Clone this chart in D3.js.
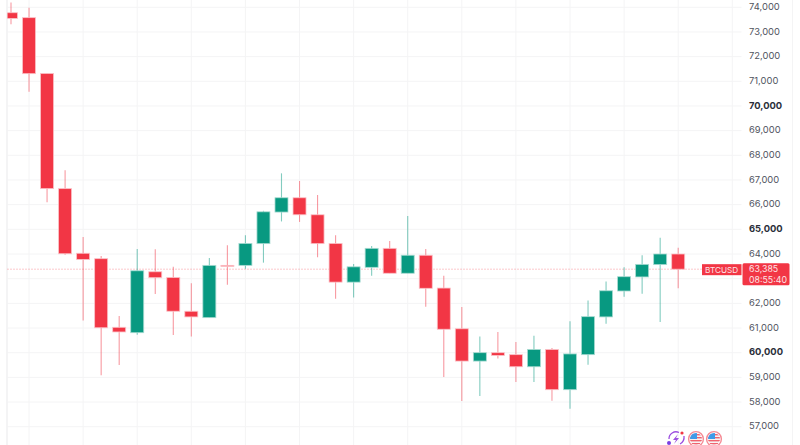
<!DOCTYPE html>
<html>
<head>
<meta charset="utf-8">
<script src="https://cdn.jsdelivr.net/npm/d3@7"></script>
<style>
  html, body { margin: 0; padding: 0; background: #fff; overflow: hidden; }
  text { font-family: Inter, "Noto Sans", sans-serif; }
</style>
</head>
<body>
<div id="chart"></div>
<script>
const opens = [73780, 73580, 71320, 66650, 64030, 63810, 61030, 60810, 63280, 63050, 61680, 61420, 63540, 63540, 64420, 65700, 66280, 65590, 64430, 62860, 63460, 64230, 63220, 63950, 62620, 60970, 59660, 60000, 59920, 59430, 60130, 58500, 59920, 61450, 62500, 63070, 63570, 64000];
const closes = [73550, 71310, 66650, 64010, 63780, 61010, 60840, 63320, 63040, 61680, 61450, 63540, 63540, 64430, 65710, 66280, 65590, 64420, 62860, 63480, 64230, 63220, 63950, 62610, 60950, 59660, 60000, 59890, 59430, 60130, 58500, 59950, 61460, 62510, 63080, 63580, 64000, 63385];
const highs = [74190, 73980, 71320, 67400, 64690, 63920, 61490, 64200, 64190, 63480, 62810, 63840, 64350, 64760, 65750, 67270, 66960, 66390, 64760, 63590, 64320, 64530, 65540, 64200, 63120, 61850, 60660, 60840, 60430, 60690, 60190, 61270, 62120, 62890, 63460, 63950, 64660, 64250];
const lows = [73310, 70580, 66100, 63970, 61300, 59090, 59500, 60730, 62380, 60720, 60660, 61420, 62750, 63400, 63650, 65320, 65300, 63870, 62190, 62240, 63120, 63220, 63220, 61860, 59010, 58040, 58240, 59760, 58810, 58810, 58050, 57730, 59510, 61170, 62270, 62390, 61240, 62610];

const priceTicks = [57000, 58000, 59000, 60000, 61000, 62000, 63000, 64000, 65000, 66000, 67000, 68000, 69000, 70000, 71000, 72000, 73000, 74000];
const boldTicks = [60000, 65000, 70000];
const gridCandles = [1, 4, 7, 10, 13, 16, 19, 22, 25, 28, 31, 34, 37, 40];
const lastPrice = 63385;
const symbol = "BTCUSD";
const countdown = "08:55:40";

const WIDTH = 800;
const HEIGHT = 445;
const PANE = { LEFT: 7.5, RIGHT: 741.5 };
const BODY_WIDTH = 13;
const UP = "#089981";
const DOWN = "#f23645";

const svg = d3.select("#chart")
  .append("svg")
  .attr("width", WIDTH)
  .attr("height", HEIGHT)
  .style("display", "block");

// scales
const x = d3.scaleLinear().domain([0, 37]).range([11, 678.2]);
const y = d3.scaleLinear().domain([57000, 74000]).range([426.7, 7.3]);

svg.append("clipPath").attr("id", "pane")
  .append("rect")
  .attr("x", PANE.LEFT)
  .attr("y", 0)
  .attr("width", PANE.RIGHT - PANE.LEFT)
  .attr("height", HEIGHT);

// grid
const grid = svg.append("g").attr("stroke", "#f4f4f5").attr("stroke-width", 1);
grid.selectAll("line.h")
  .data(priceTicks)
  .enter().append("line")
  .attr("class", "h")
  .attr("x1", PANE.LEFT)
  .attr("x2", PANE.RIGHT)
  .attr("y1", d => y(d))
  .attr("y2", d => y(d));
grid.selectAll("line.v")
  .data(gridCandles)
  .enter().append("line")
  .attr("class", "v")
  .attr("x1", d => x(d))
  .attr("x2", d => x(d))
  .attr("y1", 0)
  .attr("y2", HEIGHT);

// pane edges
svg.append("line")
  .attr("x1", 7).attr("x2", 7).attr("y1", 0).attr("y2", HEIGHT)
  .attr("stroke", "#f1f1f2").attr("stroke-width", 1.5);
svg.append("line")
  .attr("x1", 792.5).attr("x2", 792.5).attr("y1", 0).attr("y2", HEIGHT)
  .attr("stroke", "#f4f4f5");

// last price line
svg.append("line")
  .attr("x1", PANE.LEFT)
  .attr("x2", 702)
  .attr("y1", y(lastPrice))
  .attr("y2", y(lastPrice))
  .attr("stroke", DOWN)
  .attr("stroke-opacity", 0.55)
  .attr("stroke-dasharray", "1 2");

// candles
const candles = svg.append("g")
  .attr("clip-path", "url(#pane)")
  .selectAll("g")
  .data(opens.map((open, i) => ({ i, open, close: closes[i], high: highs[i], low: lows[i] })))
  .enter().append("g");

const colorOf = d => d.close > d.open ? UP : DOWN;

candles.append("line")
  .attr("x1", d => x(d.i))
  .attr("x2", d => x(d.i))
  .attr("y1", d => y(d.high))
  .attr("y2", d => y(d.low))
  .attr("stroke", colorOf)
  .attr("stroke-opacity", 0.5)
  .attr("stroke-width", 1.1);

candles.append("rect")
  .attr("x", d => x(d.i) - BODY_WIDTH / 2)
  .attr("y", d => y(Math.max(d.open, d.close)))
  .attr("width", BODY_WIDTH)
  .attr("height", d => Math.max(1, Math.abs(y(d.open) - y(d.close))))
  .attr("fill", colorOf)
  .attr("stroke", d => d.close > d.open ? "#a9dbd2" : "#fbc2c8")
  .attr("stroke-width", 0.8);

// price axis
const axis = svg.append("g")
  .attr("transform", "translate(749,0)")
  .call(d3.axisRight(y).tickValues(priceTicks).tickSize(0).tickPadding(0).tickFormat(d3.format(",")));
axis.select(".domain").remove();
axis.selectAll("text")
  .style("font-family", 'Inter, "Noto Sans", sans-serif')
  .attr("font-size", 9.4)
  .attr("dy", "0.22em")
  .attr("fill", d => boldTicks.includes(d) ? "#2a2e39" : "#50535e")
  .attr("font-weight", d => boldTicks.includes(d) ? 700 : 400);

// symbol and price tags
svg.append("rect")
  .attr("x", 702).attr("y", y(lastPrice) - 5).attr("width", 39.5).attr("height", 11)
  .attr("fill", DOWN);
svg.append("text")
  .attr("x", 705).attr("y", y(lastPrice) + 3.6)
  .attr("font-size", 8.2).attr("fill", "#fde4e6")
  .text(symbol);
svg.append("rect")
  .attr("x", 742.5).attr("y", y(lastPrice) - 6).attr("width", 47).attr("height", 22).attr("rx", 1.5)
  .attr("fill", DOWN);
svg.append("text")
  .attr("x", 749).attr("y", y(lastPrice) + 3)
  .attr("font-size", 8.8).attr("fill", "#fde4e6")
  .text(d3.format(",")(lastPrice));
svg.append("text")
  .attr("x", 749).attr("y", y(lastPrice) + 13.6)
  .attr("font-size", 8.8).attr("fill", "#fde4e6")
  .text(countdown);

// event icons on the time edge
const flash = svg.append("g").attr("transform", "translate(676,439)");
flash.append("path")
  .attr("d", "M-7,0 A7,7 0 0 1 3,-6.5 M8,-3 A8,8 0 0 1 4,5")
  .attr("fill", "none").attr("stroke", "#9c4fe0").attr("stroke-width", 1.3);
flash.append("path").attr("d", "M2,-5 L-3,1 L0,1 L-2,5 L3,-1 L0,-1 Z").attr("fill", "#9c4fe0");
flash.append("circle").attr("cx", -7).attr("cy", 4).attr("r", 2).attr("fill", "#7b3fe4");
flash.append("circle").attr("cx", 6).attr("cy", -6).attr("r", 1.6).attr("fill", "#f23645");

[696, 714].forEach((cx, k) => {
  const flag = svg.append("g").attr("transform", `translate(${cx},439)`);
  svg.append("clipPath").attr("id", `flag${k}`).append("circle").attr("cx", cx).attr("cy", 439).attr("r", 6);
  flag.append("circle").attr("r", 7.4).attr("fill", "#fff").attr("stroke", "#f58a94").attr("stroke-width", 1.4);
  const inner = svg.append("g").attr("clip-path", `url(#flag${k})`);
  inner.append("rect").attr("x", cx - 7).attr("y", 432).attr("width", 14).attr("height", 14).attr("fill", "#f7f3f3");
  [434, 437, 440, 443].forEach(sy => {
    inner.append("rect").attr("x", cx - 7).attr("y", sy).attr("width", 14).attr("height", 1.4).attr("fill", "#f0636f");
  });
  inner.append("rect").attr("x", cx - 7).attr("y", 432).attr("width", 8).attr("height", 7).attr("fill", "#3f9be8");
});
</script>
</body>
</html>
